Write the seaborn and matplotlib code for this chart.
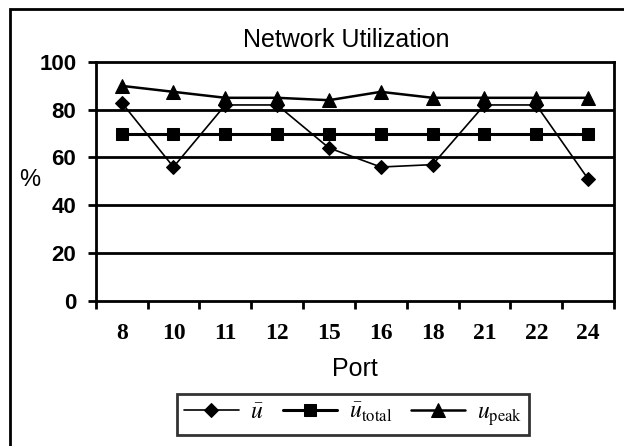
import matplotlib
matplotlib.use("Agg")
import matplotlib.pyplot as plt
import seaborn as sns
import pandas as pd
from matplotlib.patches import Rectangle
from matplotlib.ticker import FixedLocator

ports = ["8", "10", "11", "12", "15", "16", "18", "21", "22", "24"]
u_mean = [83, 56, 82, 82, 64, 56, 57, 82, 82, 51]
u_total = [70, 70, 70, 70, 70, 70, 70, 70, 70, 70]
u_peak = [90, 87.5, 85, 85, 84, 87.5, 85, 85, 85, 85]
y_ticks = [0, 20, 40, 60, 80, 100]

sns.set_theme(style="white")
plt.rcParams["font.family"] = ["Liberation Sans", "DejaVu Sans"]
plt.rcParams["mathtext.fontset"] = "stix"
plt.rcParams["text.color"] = "black"
plt.rcParams["axes.labelcolor"] = "black"
plt.rcParams["xtick.color"] = "black"
plt.rcParams["ytick.color"] = "black"

fig = plt.figure(figsize=(6.24, 4.46), dpi=100)
ax = fig.add_axes([0.1534, 0.3258, 0.8306, 0.5352])

df = pd.DataFrame({"Port": ports, "mean": u_mean, "total": u_total, "peak": u_peak})

sns.lineplot(data=df, x="Port", y="total", ax=ax, color="black", lw=2.2,
             marker="s", markersize=9, markeredgecolor="black", sort=False,
             label=r"$\bar{u}_{\mathrm{total}}$")
sns.lineplot(data=df, x="Port", y="peak", ax=ax, color="black", lw=1.8,
             marker="^", markersize=10, markeredgecolor="black", sort=False,
             label=r"$u_{\mathrm{peak}}$")
sns.lineplot(data=df, x="Port", y="mean", ax=ax, color="black", lw=1.2,
             marker="D", markersize=7, markeredgecolor="black", sort=False,
             label=r"$\bar{u}$")

ax.set_ylim(0, 100)
ax.set_xlim(-0.5, len(ports) - 0.5)
ax.set_yticks(y_ticks)
ax.set_yticklabels([str(v) for v in y_ticks], fontsize=16, fontweight="bold")
ax.set_xticks(range(len(ports)))
ax.set_xticklabels(ports, fontsize=17, fontweight="bold", family="Liberation Serif")
ax.xaxis.set_minor_locator(FixedLocator([i - 0.5 for i in range(len(ports) + 1)]))
ax.tick_params(axis="x", which="major", length=0, pad=16)
ax.tick_params(axis="x", which="minor", length=6, width=2, direction="out", bottom=True, color="black")
ax.tick_params(axis="y", which="major", length=6, width=2, direction="out", left=True, pad=8, color="black")

for v in y_ticks[1:-1]:
    ax.axhline(v, color="black", lw=2, zorder=0.5)
for s in ax.spines.values():
    s.set_color("black")
    s.set_linewidth(2)

ax.set_xlabel("Port", fontsize=18)
ax.xaxis.set_label_coords(0.5, -0.235)
ax.set_ylabel("%", fontsize=17, rotation=0)
ax.yaxis.set_label_coords(-0.127, 0.46)

fig.text(0.5545, 1 - 47 / 446, "Network Utilization", fontsize=18, ha="center", va="baseline")

handles, labels = ax.get_legend_handles_labels()
order = [2, 0, 1]
ax.get_legend().remove()
leg = fig.legend([handles[i] for i in order], [labels[i] for i in order],
                 loc="center", bbox_to_anchor=(0.566, 0.0706), ncol=3,
                 fontsize=17, frameon=True, fancybox=False, handlelength=2.3,
                 columnspacing=0.8, handletextpad=0.5, borderpad=0.3,
                 borderaxespad=0)
leg.get_frame().set_edgecolor("black")
leg.get_frame().set_linewidth(2)

fig.patches.append(Rectangle((10 / 624, -0.1), 1.2, 1 - 9 / 446 + 0.1,
                             transform=fig.transFigure, fill=False,
                             edgecolor="black", lw=2, zorder=-1))

fig.savefig("out.png", dpi=100)
